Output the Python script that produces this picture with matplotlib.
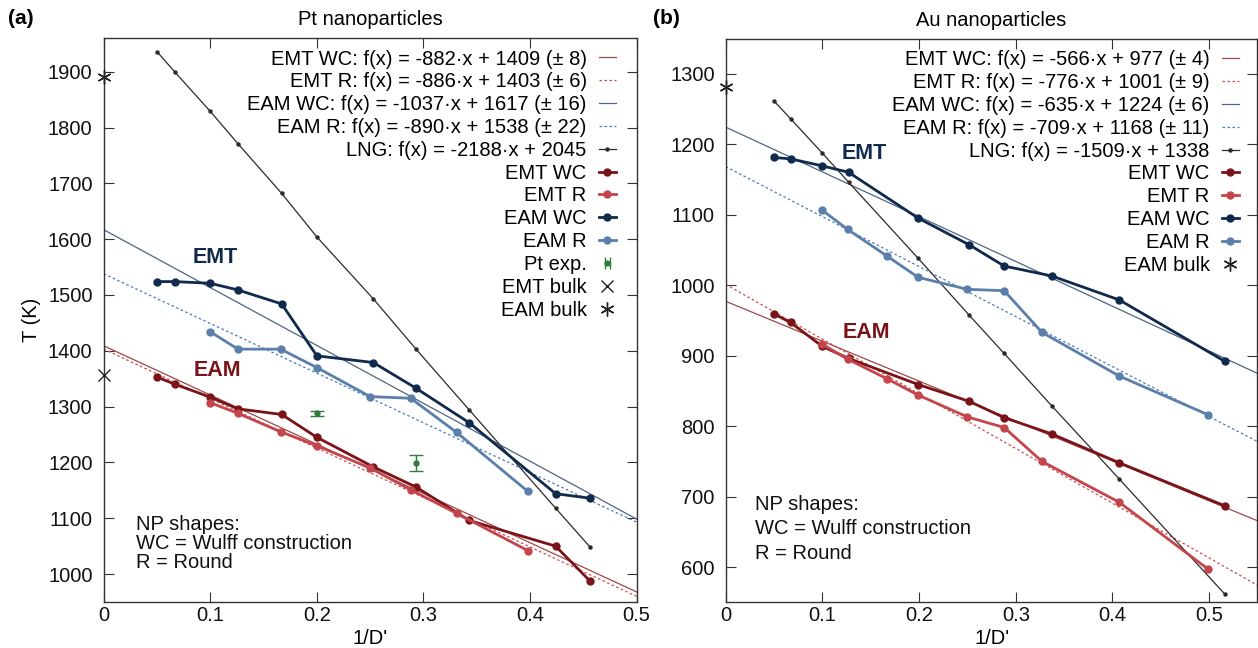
import matplotlib.pyplot as plt
from matplotlib.lines import Line2D
from matplotlib.legend_handler import HandlerLine2D, HandlerTuple

plt.rcParams["font.family"] = ["Liberation Sans", "DejaVu Sans"]
plt.rcParams["font.size"] = 14.5

# ---- (a) Pt nanoparticles ----
pt_wc_x = [0.050, 0.067, 0.100, 0.126, 0.167, 0.200, 0.253, 0.293, 0.343, 0.424, 0.456]
pt_emt_wc = [1353, 1340, 1317, 1296, 1286, 1245, 1192, 1156, 1096, 1050, 988]
pt_eam_wc = [1524, 1524, 1521, 1509, 1484, 1391, 1379, 1333, 1271, 1144, 1136]
pt_r_x = [0.100, 0.126, 0.166, 0.200, 0.250, 0.288, 0.331, 0.398]
pt_emt_r = [1307, 1288, 1255, 1230, 1190, 1151, 1109, 1042]
pt_eam_r = [1434, 1403, 1403, 1370, 1318, 1315, 1254, 1148]
pt_lng = [1936, 1899, 1829, 1771, 1682, 1604, 1493, 1403, 1294, 1118, 1049]
pt_exp_x = [0.200, 0.293]
pt_exp_y = [1288, 1199]
pt_exp_err = [5, 14]
pt_emt_bulk = 1356
pt_eam_bulk = 1891
pt_fit_slope = [-882, -886, -1037, -890]
pt_fit_icpt = [1409, 1403, 1617, 1538]
pt_fit_err = [8, 6, 16, 22]
pt_lng_fit = (-2188, 2045)

# ---- (b) Au nanoparticles ----
au_wc_x = [0.050, 0.067, 0.100, 0.127, 0.199, 0.252, 0.288, 0.337, 0.407, 0.516]
au_emt_wc = [959, 947, 913, 896, 859, 835, 812, 789, 748, 687]
au_eam_wc = [1181, 1179, 1169, 1160, 1095, 1057, 1027, 1013, 979, 892]
au_r_x = [0.100, 0.126, 0.167, 0.199, 0.250, 0.288, 0.327, 0.407, 0.499]
au_emt_r = [916, 895, 867, 844, 813, 798, 750, 692, 597]
au_eam_r = [1106, 1079, 1041, 1011, 994, 992, 933, 871, 816]
au_lng = [1261, 1236, 1187, 1146, 1038, 957, 903, 829, 725, 562]
au_eam_bulk = 1281
au_fit_slope = [-566, -776, -635, -709]
au_fit_icpt = [977, 1001, 1224, 1168]
au_fit_err = [4, 9, 6, 11]
au_lng_fit = (-1509, 1338)

fit_names = ["EMT WC", "EMT R", "EAM WC", "EAM R"]
fit_colors = ["#a04848", "#d0494c", "#4f6584", "#4a78b6"]
fit_styles = ["-", (0, (2, 2)), "-", (0, (2, 2))]
c_emt_wc = "#7a1418"
c_emt_r = "#c4454b"
c_eam_wc = "#0f2a4c"
c_eam_r = "#5a7fab"
c_lng = "#2b2b2b"
c_exp = "#2e7d3a"
asterisk = (6, 2, 0)


def draw_panel(ax, xmax, wc_x, emt_wc, eam_wc, r_x, emt_r, eam_r, lng,
               slopes, icpts, errs, lng_fit):
    handles, labels = [], []
    for name, s, b, e, col, ls in zip(fit_names, slopes, icpts, errs,
                                      fit_colors, fit_styles):
        xs = [0, xmax]
        h, = ax.plot(xs, [s * v + b for v in xs], color=col, ls=ls, lw=0.9)
        handles.append(h)
        labels.append(f"{name}: f(x) = {s}·x + {b} (± {e})")
    h, = ax.plot(wc_x, lng, color=c_lng, lw=0.9, marker="o", ms=2.2)
    handles.append(h)
    labels.append(f"LNG: f(x) = {lng_fit[0]}·x + {lng_fit[1]}")
    for xs, ys, col, name in [(wc_x, emt_wc, c_emt_wc, "EMT WC"),
                              (r_x, emt_r, c_emt_r, "EMT R"),
                              (wc_x, eam_wc, c_eam_wc, "EAM WC"),
                              (r_x, eam_r, c_eam_r, "EAM R")]:
        h, = ax.plot(xs, ys, color=col, lw=2.0, marker="o", ms=5)
        handles.append(h)
        labels.append(name)
    ax.set_xlim(0, xmax)
    ax.set_xticks([0, 0.1, 0.2, 0.3, 0.4, 0.5])
    ax.set_xticklabels(["0", "0.1", "0.2", "0.3", "0.4", "0.5"])
    ax.tick_params(axis="both", direction="in", top=True, right=True,
                   length=7, width=0.8, colors="#333333", labelcolor="#111111")
    ax.tick_params(axis="y", pad=8)
    ax.tick_params(axis="x", pad=3)
    for sp in ax.spines.values():
        sp.set_color("#333333")
        sp.set_linewidth(1.0)
    return handles, labels


legend_kw = dict(loc="upper right", frameon=False, markerfirst=False,
                 handlelength=0.85, handletextpad=0.6, labelspacing=0.19,
                 borderpad=0, borderaxespad=0)

fig = plt.figure(figsize=(12.58, 6.48), dpi=100)
ax1 = fig.add_axes([0.0824, 0.071, 0.4237, 0.870])
ax2 = fig.add_axes([0.5769, 0.0715, 0.4227, 0.8683])

# panel a
hs, ls = draw_panel(ax1, 0.5, pt_wc_x, pt_emt_wc, pt_eam_wc, pt_r_x, pt_emt_r,
                    pt_eam_r, pt_lng, pt_fit_slope, pt_fit_icpt, pt_fit_err,
                    pt_lng_fit)
ax1.errorbar(pt_exp_x, pt_exp_y, yerr=pt_exp_err, fmt="o", ms=3.5,
             color=c_exp, ecolor=c_exp, elinewidth=1, capsize=5)
exp_bar = Line2D([], [], color=c_exp, lw=1, marker="|", ms=9)
exp_dot = Line2D([], [], color=c_exp, ls="none", marker="o", ms=3.5)
h_emt_bulk, = ax1.plot([0], [pt_emt_bulk], ls="none", marker="x", ms=8,
                       mew=1, color="#222222", clip_on=False, zorder=5)
h_eam_bulk, = ax1.plot([0], [pt_eam_bulk], ls="none", marker=asterisk, ms=10,
                       mew=1, color="#222222", clip_on=False, zorder=5)
hs += [(exp_bar, exp_dot), h_emt_bulk, h_eam_bulk]
ls += ["Pt exp.", "EMT bulk", "EAM bulk"]
ax1.legend(hs, ls, bbox_to_anchor=(0.961, 0.980),
           handler_map={exp_bar: HandlerLine2D(numpoints=2),
                        tuple: HandlerTuple(ndivide=1)}, **legend_kw)
ax1.set_ylim(950, 1960)
ax1.set_yticks(range(1000, 2000, 100))
ax1.set_title("Pt nanoparticles", fontsize=14.5, pad=9.5)
ax1.set_ylabel("T (K)")
ax1.yaxis.set_label_coords(-0.117, 0.5)
ax1.set_xlabel("1/D'")
ax1.xaxis.set_label_coords(0.5, -0.048)
ax1.text(0.105, 1567, "EMT", color=c_eam_wc, fontsize=15.5, weight="bold",
         ha="center", va="center")
ax1.text(0.1065, 1365, "EAM", color=c_emt_wc, fontsize=15.5, weight="bold",
         ha="center", va="center")
ax1.text(0.030, 1088, "NP shapes:", va="center", color="#111111")
ax1.text(0.030, 1055, "WC = Wulff construction", va="center", color="#111111")
ax1.text(0.030, 1020, "R = Round", va="center", color="#111111")

# panel b
hs, ls = draw_panel(ax2, 0.55, au_wc_x, au_emt_wc, au_eam_wc, au_r_x, au_emt_r,
                    au_eam_r, au_lng, au_fit_slope, au_fit_icpt, au_fit_err,
                    au_lng_fit)
h_eam_bulk, = ax2.plot([0], [au_eam_bulk], ls="none", marker=asterisk, ms=10,
                       mew=1, color="#222222", clip_on=False, zorder=5)
hs.append(h_eam_bulk)
ls.append("EAM bulk")
ax2.legend(hs, ls, bbox_to_anchor=(0.965, 0.980), **legend_kw)
ax2.set_ylim(551, 1349)
ax2.set_yticks(range(600, 1400, 100))
ax2.set_title("Au nanoparticles", fontsize=14.5, pad=9.5)
ax2.set_xlabel("1/D'")
ax2.xaxis.set_label_coords(0.5, -0.048)
ax2.text(0.1436, 1186, "EMT", color=c_eam_wc, fontsize=15.5, weight="bold",
         ha="center", va="center")
ax2.text(0.1455, 933, "EAM", color=c_emt_wc, fontsize=15.5, weight="bold",
         ha="center", va="center")
ax2.text(0.030, 689, "NP shapes:", va="center", color="#111111")
ax2.text(0.030, 655, "WC = Wulff construction", va="center", color="#111111")
ax2.text(0.030, 620, "R = Round", va="center", color="#111111")

fig.text(0.006, 1 - 18 / 648, "(a)", weight="bold", va="center", fontsize=15)
fig.text(0.519, 1 - 18 / 648, "(b)", weight="bold", va="center", fontsize=15)

fig.savefig("out.png", dpi=100)
